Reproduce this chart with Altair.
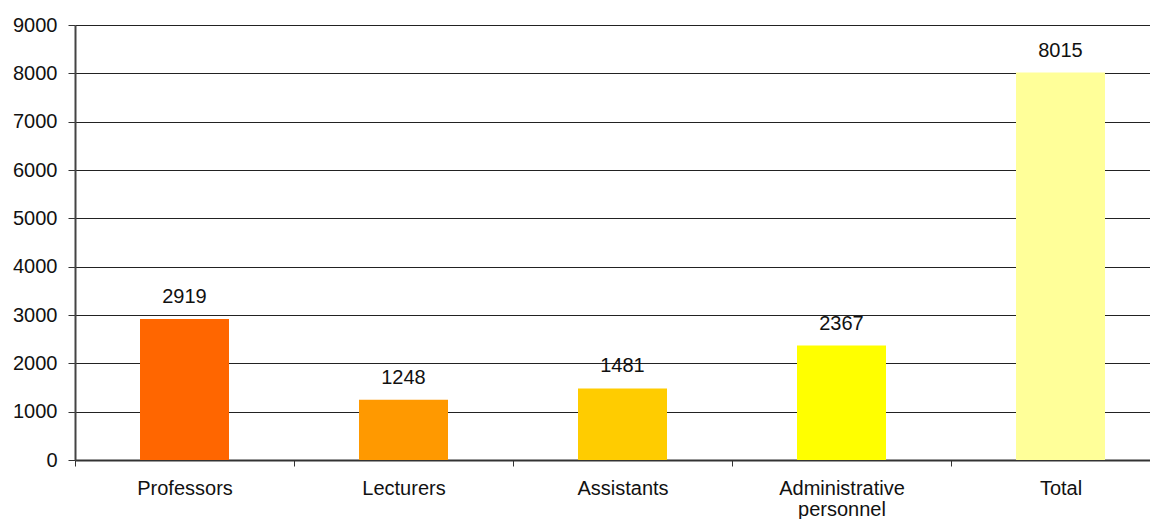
import altair as alt
import pandas as pd

categories = ["Professors", "Lecturers", "Assistants", "Administrative\npersonnel", "Total"]
values = [2919, 1248, 1481, 2367, 8015]
colors = ["#FF6600", "#FF9900", "#FFCC00", "#FFFF00", "#FFFF99"]
y_ticks = [0, 1000, 2000, 3000, 4000, 5000, 6000, 7000, 8000, 9000]

df = pd.DataFrame({"category": categories, "value": values, "color": colors})

FONT = "Liberation Sans"
FS = 20

x = alt.X(
    "category:N",
    sort=categories,
    scale=alt.Scale(paddingInner=0, paddingOuter=0, range=[0, 1095]),
    axis=alt.Axis(
        title=None, labelAngle=0, tickBand="extent", tickSize=6,
        labelPadding=12, labelFontSize=FS, labelFont=FONT, labelColor="#111",
        domainColor="#333", domainWidth=2, tickColor="#333", grid=False,
        labelExpr="split(datum.label, '\\n')", labelLineHeight=21,
    ),
)
y = alt.Y(
    "value:Q",
    scale=alt.Scale(domain=[0, 9000], nice=False),
    axis=alt.Axis(
        title=None, values=y_ticks, format="d", tickSize=7, labelPadding=11,
        labelFontSize=FS, labelFont=FONT, labelColor="#111",
        domainColor="#444", domainWidth=2, tickColor="#333",
        grid=True, gridColor="#222", gridWidth=1,
    ),
)

bars = alt.Chart(df).mark_bar(size=89).encode(
    x=x, y=y, color=alt.Color("color:N", scale=None)
)
labels = alt.Chart(df).mark_text(
    dy=-16, baseline="alphabetic", fontSize=FS, font=FONT, color="#111"
).encode(x=alt.X("category:N", sort=categories), y="value:Q", text="value:Q")

chart = (
    alt.layer(bars, labels)
    .properties(
        width=1075, height=435,
        autosize=alt.AutoSizeParams(type="none"),
        padding={"left": 67, "top": 17, "right": 0, "bottom": 59},
    )
    .configure_view(stroke="#888", strokeWidth=2)
    .configure(background="white")
)

chart.save("out.html", embed_options={"renderer": "svg", "actions": False})
